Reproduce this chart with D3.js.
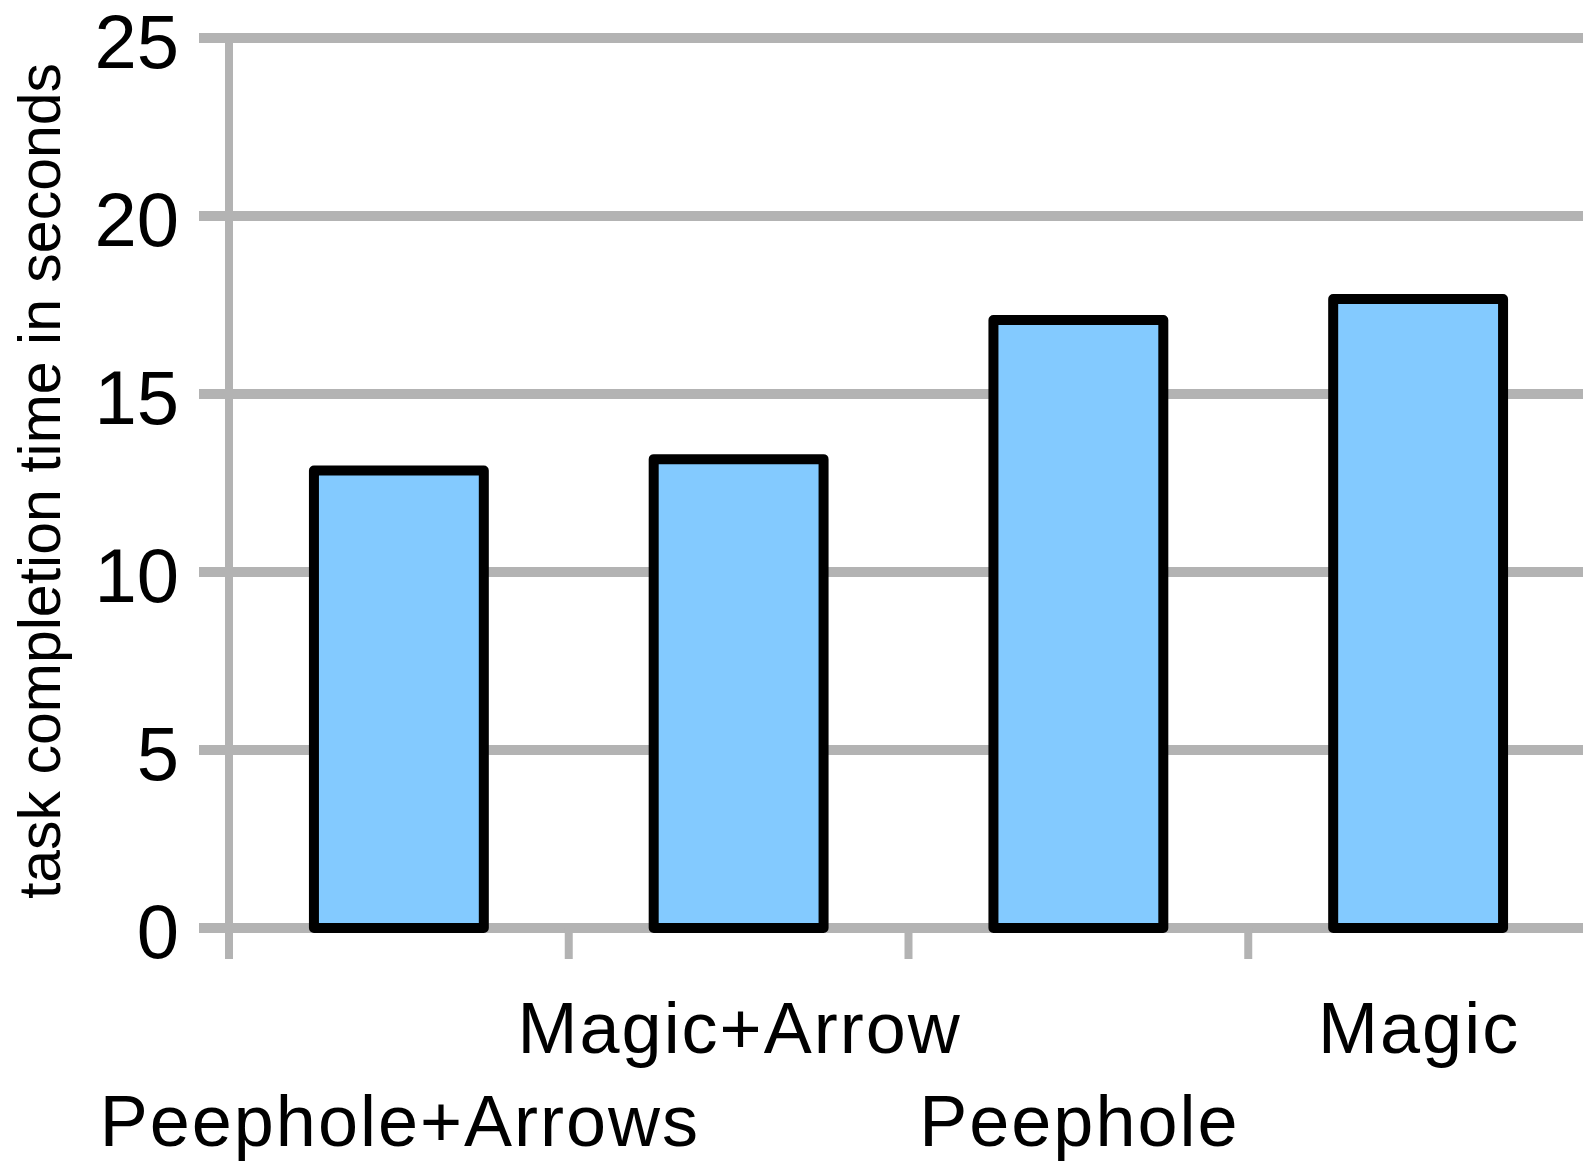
<!DOCTYPE html>
<html>
<head>
<meta charset="utf-8">
<script src="https://cdn.jsdelivr.net/npm/d3@7"></script>
<style>
  html, body { margin: 0; padding: 0; background: #fff; }
  svg { display: block; }
  text { font-family: "Liberation Sans", Arial, sans-serif; fill: #000; }
</style>
</head>
<body>
<svg id="chart" width="1583" height="1162"></svg>
<script>
const categories = ["Peephole+Arrows", "Magic+Arrow", "Peephole", "Magic"];
const values = [12.85, 13.17, 17.08, 17.67];
const yTicks = [0, 5, 10, 15, 20, 25];
const yTitle = "task completion time in seconds";

const svg = d3.select("#chart");

const y = d3.scaleLinear().domain([0, 25]).range([928, 38]);
const xOuter = d3.scaleBand().domain(categories).range([229, 1588]).padding(0);
const x = d3.scaleBand().domain(categories).range([229, 1588])
  .paddingInner(0.5).paddingOuter(0.25);

const grid = "#b3b3b3";

// horizontal gridlines (extend left as outward ticks)
svg.append("g").selectAll("line").data(yTicks).join("line")
  .attr("x1", 199).attr("x2", 1590)
  .attr("y1", d => y(d)).attr("y2", d => y(d))
  .attr("stroke", grid).attr("stroke-width", 10);

// vertical axis line
svg.append("line")
  .attr("x1", xOuter.range()[0]).attr("x2", xOuter.range()[0])
  .attr("y1", y(25)).attr("y2", 959)
  .attr("stroke", grid).attr("stroke-width", 8);

// category boundary ticks below the baseline
const boundaries = categories.map(c => xOuter(c)).concat([xOuter.range()[1]]);
svg.append("g").selectAll("line").data(boundaries).join("line")
  .attr("x1", d => d).attr("x2", d => d)
  .attr("y1", y(0)).attr("y2", 959)
  .attr("stroke", grid).attr("stroke-width", 8);

// y tick labels
svg.append("g").selectAll("text").data(yTicks).join("text")
  .attr("x", 179).attr("y", d => y(d) + 30)
  .attr("text-anchor", "end")
  .style("font-size", "76px")
  .text(d => d);

// bars
svg.append("g").selectAll("rect").data(categories).join("rect")
  .attr("x", c => x(c))
  .attr("width", x.bandwidth())
  .attr("y", (c, i) => y(values[i]))
  .attr("height", (c, i) => y(0) - y(values[i]))
  .attr("fill", "#83caff")
  .attr("stroke", "#000")
  .attr("stroke-width", 10)
  .attr("stroke-linejoin", "round");

// x labels, staggered in two rows
svg.append("g").selectAll("text").data(categories).join("text")
  .attr("x", c => xOuter(c) + xOuter.bandwidth() / 2 + 1)
  .attr("y", (c, i) => i % 2 === 0 ? 1146 : 1053)
  .attr("text-anchor", "middle")
  .style("font-size", "72px")
  .style("letter-spacing", "2px")
  .text(c => c);

// y axis title
svg.append("text")
  .attr("transform", "translate(60,481) rotate(-90)")
  .attr("text-anchor", "middle")
  .style("font-size", "59px")
  .text(yTitle);
</script>
</body>
</html>
